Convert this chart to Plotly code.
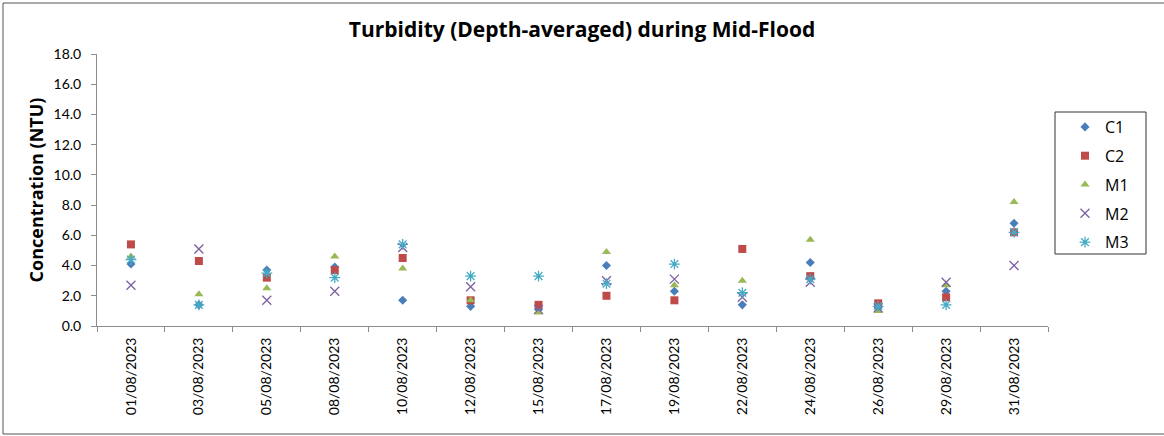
import plotly.graph_objects as go

dates = ["01/08/2023", "03/08/2023", "05/08/2023", "08/08/2023", "10/08/2023",
         "12/08/2023", "15/08/2023", "17/08/2023", "19/08/2023", "22/08/2023",
         "24/08/2023", "26/08/2023", "29/08/2023", "31/08/2023"]

c1 = [4.1, 1.4, 3.7, 3.9, 1.7, 1.3, 1.1, 4.0, 2.3, 1.4, 4.2, 1.2, 2.3, 6.8]
c2 = [5.4, 4.3, 3.2, 3.7, 4.5, 1.7, 1.4, 2.0, 1.7, 5.1, 3.3, 1.5, 1.9, 6.2]
m1 = [4.6, 2.1, 2.5, 4.6, 3.8, 1.7, 0.9, 4.9, 2.7, 3.0, 5.7, 1.0, 2.7, 8.2]
m2 = [2.7, 5.1, 1.7, 2.3, 5.2, 2.6, 1.1, 3.0, 3.1, 1.9, 2.9, 1.2, 2.9, 4.0]
m3 = [4.4, 1.4, 3.5, 3.2, 5.4, 3.3, 3.3, 2.8, 4.1, 2.2, 3.1, 1.3, 1.4, 6.2]

series = [
    ("C1", c1, "diamond", "#4A7EBB", 7),
    ("C2", c2, "square", "#BE4B48", 8),
    ("M1", m1, "triangle-up", "#98B954", 8),
    ("M2", m2, "x-thin-open", "#7D60A0", 9),
    ("M3", m3, "asterisk-open", "#46AAC5", 9),
]

fig = go.Figure()
for name, vals, sym, col, sz in series:
    marker = dict(symbol=sym, size=sz, color=col)
    if sym.endswith("open"):
        marker["line"] = dict(color=col, width=1.3)
    else:
        marker["line"] = dict(width=0)
    fig.add_trace(go.Scatter(x=dates, y=vals, mode="markers", name=name,
                             legendgroup=name, marker=marker))

L, R, T, B = 97, 116, 54, 110
W, H = 1164, 436
pw = W - L - R
ph = H - T - B

def px2x(p):
    return (p - L) / pw

def px2y(p):
    return (H - B - p) / ph

fig.update_layout(
    width=W, height=H,
    margin=dict(l=L, r=R, t=T, b=B, pad=0),
    paper_bgcolor="white", plot_bgcolor="white",
    font=dict(family="Lato, Open Sans, sans-serif", color="black"),
    title=dict(text="<b>Turbidity (Depth-averaged) during Mid-Flood</b>",
               x=0.5, xanchor="center", y=1 - 30 / H, yanchor="middle",
               font=dict(size=21, color="black", family="Open Sans")),
    xaxis=dict(type="category", showgrid=False, showline=True, linecolor="#8c8c8c",
               linewidth=1, ticks="outside", tickson="boundaries", ticklen=5,
               tickcolor="#8c8c8c", tickangle=-90, tickfont=dict(size=14),
               ticklabelstandoff=5,
               range=[-0.5, len(dates) - 0.5]),
    yaxis=dict(range=[0, 18], dtick=2, tickformat=".1f", showgrid=False,
               showline=True, linecolor="#8c8c8c", linewidth=1, ticks="outside",
               ticklen=5, tickcolor="#8c8c8c", tickfont=dict(size=14), zeroline=False,
               ticklabelstandoff=7,
               title=dict(text="<b>Concentration (NTU)</b>",
                          font=dict(size=18, family="Open Sans"), standoff=5)),
    legend=dict(x=px2x(1065), y=px2y(110), xanchor="left", yanchor="top",
                borderwidth=0, bgcolor="rgba(0,0,0,0)",
                font=dict(size=16, family="Open Sans"), tracegroupgap=5),
    showlegend=True,
)

# legend frame
fig.add_shape(type="rect", xref="paper", yref="paper",
              x0=px2x(1055), x1=px2x(1146), y0=px2y(254), y1=px2y(112),
              line=dict(color="#333333", width=1), fillcolor="white", layer="below")
# chart border
fig.add_shape(type="rect", xref="paper", yref="paper",
              x0=px2x(3), x1=px2x(1166), y0=px2y(434), y1=px2y(3),
              line=dict(color="#555555", width=1), fillcolor="rgba(0,0,0,0)", layer="below")

fig.write_html("out.html", config={"displayModeBar": False},
               post_script="document.body.style.margin='0px';")
